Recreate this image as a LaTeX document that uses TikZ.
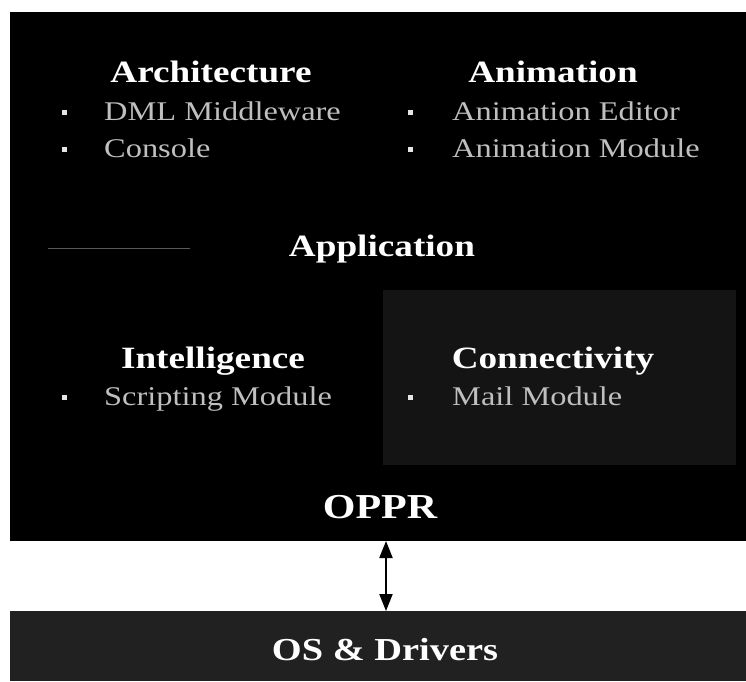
\documentclass[tikz,border=0pt]{standalone}
\usepackage{fontspec}
\setmainfont[FakeStretch=1.2]{Liberation Serif}
\usetikzlibrary{arrows.meta}
\tikzset{
  head/.style={text=white, font=\bfseries\fontsize{31}{31}\selectfont, inner sep=0pt, anchor=base},
  item/.style={text=black!25, font=\fontsize{27}{27}\selectfont, inner sep=0pt, anchor=base west},
  dot/.style={rectangle, fill=black!10, inner sep=0pt, minimum size=5pt},
  big/.style={text=white, font=\bfseries\fontsize{35}{35}\selectfont, inner sep=0pt, anchor=base},
  panel/.style={fill=black!92},
}
\begin{document}
\begin{tikzpicture}[x=1pt,y=-1pt]
\useasboundingbox (0,0) rectangle (746,681);
\fill[white] (0,0) rectangle (746,681);
% main box
\fill[black] (10,12) rectangle (746,541);
\fill[panel] (383,290) rectangle (736,465);
\draw[black!65, line width=0.5pt] (48,248) -- (190,248);
% bottom box
\fill[black!87] (10,611) rectangle (746,681);

\node[head] (arch) at (211,82) {Architecture};
\node[dot] (b1) at (64,112) {};
\node[item] (dml) at (104,120) {DML Middleware};
\node[dot] (b2) at (64,149) {};
\node[item] (con) at (104,157) {Console};

\node[head] (anim) at (553,82) {Animation};
\node[dot] (b3) at (410,112) {};
\node[item] (aed) at (452,120) {Animation Editor};
\node[dot] (b4) at (410,149) {};
\node[item] (amo) at (452,157) {Animation Module};

\node[head] (app) at (382,256) {Application};

\node[head] (intel) at (213,368) {Intelligence};
\node[dot] (b5) at (64,397) {};
\node[item] (scr) at (104,405) {Scripting Module};

\node[head] (conn) at (553,368) {Connectivity};
\node[dot] (b6) at (410,397) {};
\node[item] (mail) at (452,405) {Mail Module};

\node[big] (oppr) at (380,518) {OPPR};
\node[head, font=\bfseries\fontsize{32}{32}\selectfont] (os) at (385,660) {OS \& Drivers};

\coordinate (top) at (386,541);
\coordinate (bot) at (386,611);
\draw[line width=2pt, {Triangle[length=17pt,width=13pt]}-{Triangle[length=17pt,width=13pt]}] (top) -- (bot);
\end{tikzpicture}
\end{document}
